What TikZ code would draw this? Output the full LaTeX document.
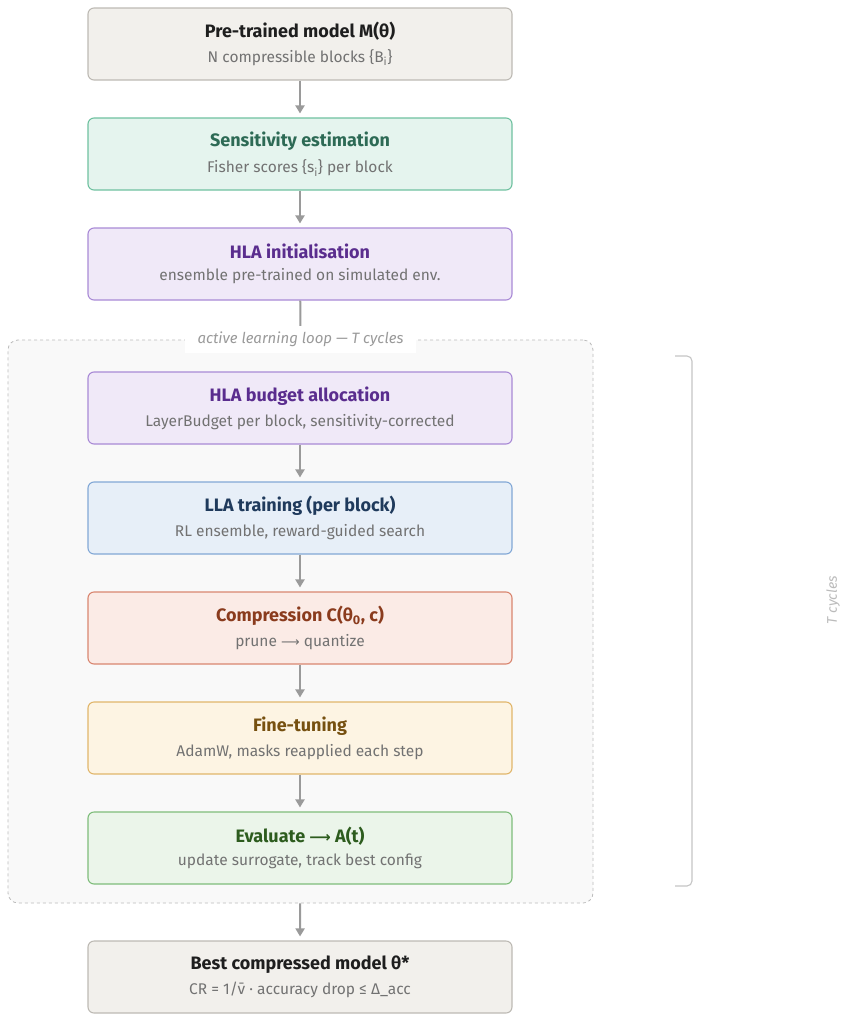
\documentclass[tikz,border=0pt]{standalone}
\usepackage{fontspec}
\setmainfont{Fira Sans}
\newfontfamily\arrowfont{DejaVu Sans}
\usetikzlibrary{arrows.meta,positioning}

\definecolor{arrowgray}{HTML}{9A9A9A}
\definecolor{subgray}{HTML}{727272}
\definecolor{neutralfill}{HTML}{F2F0EC}
\definecolor{neutraldraw}{HTML}{BDBAB4}
\definecolor{neutraltext}{HTML}{1E1E1E}
\definecolor{sensfill}{HTML}{E5F4EE}
\definecolor{sensdraw}{HTML}{6FC1A0}
\definecolor{senstext}{HTML}{2D6A55}
\definecolor{hlafill}{HTML}{F0E9F8}
\definecolor{hladraw}{HTML}{A98AD6}
\definecolor{hlatext}{HTML}{5A2D8E}
\definecolor{llafill}{HTML}{E7EFF8}
\definecolor{lladraw}{HTML}{82A8D6}
\definecolor{llatext}{HTML}{1F3A5C}
\definecolor{compfill}{HTML}{FBEBE6}
\definecolor{compdraw}{HTML}{D98670}
\definecolor{comptext}{HTML}{8A3B1D}
\definecolor{tunefill}{HTML}{FDF4E3}
\definecolor{tunedraw}{HTML}{E1B66B}
\definecolor{tunetext}{HTML}{765010}
\definecolor{evalfill}{HTML}{EBF5EA}
\definecolor{evaldraw}{HTML}{7FBD7B}
\definecolor{evaltext}{HTML}{2D5C1E}
\definecolor{loopfill}{HTML}{F9F9F9}
\definecolor{loopdraw}{HTML}{BBBBBB}

\newcommand{\stagetext}[3]{%
  {\fontsize{18}{21}\selectfont\bfseries\color{#1}#2}\\[8pt]%
  {\fontsize{15.5}{18}\selectfont\color{subgray}#3}}
\newcommand{\longto}{{\arrowfont\fontsize{13}{16}\selectfont ⟶}}

\begin{document}
\begin{tikzpicture}[x=1pt,y=1pt,
  stage/.style={draw, rounded corners=6pt, line width=1.1pt, align=center,
    minimum width=424pt, minimum height=72pt, inner sep=0pt},
  neutral/.style={stage, fill=neutralfill, draw=neutraldraw},
  sens/.style={stage, fill=sensfill, draw=sensdraw},
  hla/.style={stage, fill=hlafill, draw=hladraw},
  lla/.style={stage, fill=llafill, draw=lladraw},
  comp/.style={stage, fill=compfill, draw=compdraw},
  tune/.style={stage, fill=tunefill, draw=tunedraw},
  evalbox/.style={stage, fill=evalfill, draw=evaldraw},
  flow/.style={draw=arrowgray, line width=2pt, -{Triangle[length=8pt,width=9pt]}, shorten >=4pt}]
\useasboundingbox (0,0) rectangle (849,-1020);

% active learning loop
\node[draw=loopdraw, dashed, fill=loopfill, rounded corners=10pt, line width=0.8pt,
  minimum width=585pt, minimum height=563pt] (loop) at (300.5,-621.5) {};
\node[fill=white, inner xsep=13pt, inner ysep=6pt, text=arrowgray,
  font=\fontsize{15}{18}\selectfont\itshape] (looplbl) at (loop.north)
  {active learning loop — T cycles};

% stages
\node[neutral] (model) at (300,-44) {\stagetext{neutraltext}{Pre-trained model M(θ)}{N compressible blocks \{B\textsubscript{i}\}}};
\node[sens] (sens) at (300,-154) {\stagetext{senstext}{Sensitivity estimation}{Fisher scores \{s\textsubscript{i}\} per block}};
\node[hla] (init) at (300,-264) {\stagetext{hlatext}{HLA initialisation}{ensemble pre-trained on simulated env.}};
\node[hla] (budget) at (300,-408) {\stagetext{hlatext}{HLA budget allocation}{LayerBudget per block, sensitivity-corrected}};
\node[lla] (lla) at (300,-518) {\stagetext{llatext}{LLA training (per block)}{RL ensemble, reward-guided search}};
\node[comp] (comp) at (300,-628) {\stagetext{comptext}{Compression C(θ\textsubscript{0}, c)}{prune \longto{} quantize}};
\node[tune] (tune) at (300,-738) {\stagetext{tunetext}{Fine-tuning}{AdamW, masks reapplied each step}};
\node[evalbox] (eval) at (300,-848) {\stagetext{evaltext}{Evaluate {\arrowfont\fontsize{15}{18}\selectfont ⟶} A(t)}{update surrogate, track best config}};
\node[neutral] (best) at (300,-977) {\stagetext{neutraltext}{Best compressed model θ*}{CR = 1/\={v} · accuracy drop ≤ Δ\_acc}};

% connectors
\draw[flow] (model) -- (sens);
\draw[flow] (sens) -- (init);
\draw[draw=arrowgray, line width=2pt] (init) -- (looplbl);
\draw[flow] (budget) -- (lla);
\draw[flow] (lla) -- (comp);
\draw[flow] (comp) -- (tune);
\draw[flow] (tune) -- (eval);
\draw[flow] (loop) -- (best);

% T cycles bracket
\draw[draw=loopdraw!85, line width=1.1pt, rounded corners=5pt]
  (675,-356) -- (692,-356) -- (692,-886) -- (675,-886);
\node[rotate=90, text=loopdraw, font=\fontsize{14}{16}\selectfont\itshape] (tcyc) at (833,-600) {T cycles};
\end{tikzpicture}
\end{document}
